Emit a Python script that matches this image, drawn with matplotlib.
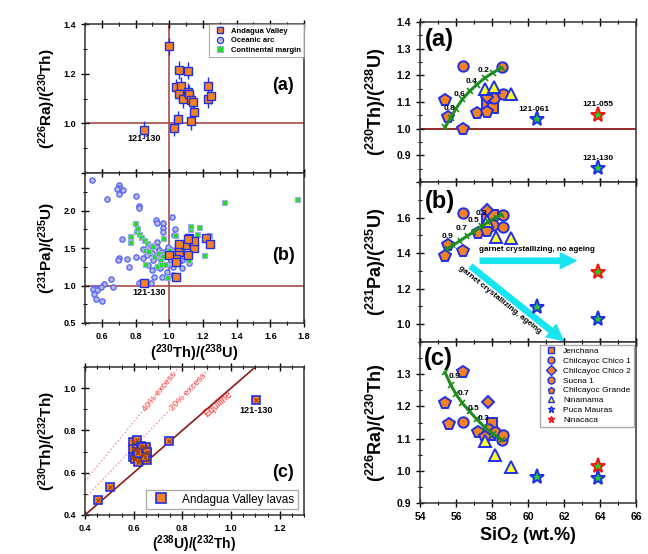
import matplotlib
matplotlib.use("Agg")
import matplotlib.pyplot as plt
from matplotlib.markers import MarkerStyle
from matplotlib.lines import Line2D
import numpy as np

plt.rcParams['font.family'] = 'Liberation Sans'
plt.rcParams['font.weight'] = 'bold'
plt.rcParams['mathtext.fontset'] = 'custom'
plt.rcParams['mathtext.rm'] = 'Liberation Sans:bold'
plt.rcParams['mathtext.bf'] = 'Liberation Sans:bold'
plt.rcParams['mathtext.default'] = 'bf'

ORANGE = '#F5821F'
BLUE = '#1F2FE8'
LINE_RED = '#A84B4B'
EQ_RED = '#8B1A1A'

# ---------------- left column data ----------------
# (a) Andagua Valley: (230Th/238U) vs (226Ra/230Th)
av_thu_a = [1.00, 1.06, 1.11, 1.04, 1.07, 1.06, 1.08, 1.11, 1.12, 1.13,
            1.14, 1.15, 1.13, 1.05, 1.03, 1.23, 1.23, 1.25, 0.85]
av_rath_a = [1.31, 1.215, 1.212, 1.145, 1.15, 1.12, 1.098, 1.127, 1.118, 1.094,
             1.087, 1.045, 1.008, 1.016, 0.983, 1.15, 1.096, 1.112, 0.975]

# (b) (230Th/238U) vs (231Pa/235U)
av_thu_b = [0.85, 1.04, 1.06, 1.06, 1.10, 1.12, 1.14, 1.15, 1.11, 1.04,
            1.00, 1.22, 1.24, 1.15, 1.11, 1.06, 1.04]
av_pau_b = [1.04, 1.11, 1.45, 1.52, 1.54, 1.63, 1.58, 1.50, 1.41, 1.35,
            1.41, 1.63, 1.55, 1.59, 1.62, 1.56, 1.32]

oa_thu = [0.543, 0.704, 0.702, 0.727, 0.692, 0.704, 0.803, 0.629, 0.822, 0.822,
          1.014, 0.919, 0.925, 0.961, 0.965, 1.034, 1.028, 0.961, 0.722, 0.926,
          0.704, 0.698, 0.751, 0.761, 0.803, 0.846, 0.846, 0.876, 0.866, 0.896,
          0.905, 0.925, 0.941, 0.955, 0.935, 0.961, 0.975, 0.985, 0.995, 1.014,
          1.024, 1.044, 1.064, 1.074, 1.088, 1.078, 1.119, 0.925, 0.876, 0.896,
          0.945, 0.985, 1.024, 0.955, 1.020, 0.909, 0.892, 0.820, 0.654, 0.668,
          0.615, 0.593, 0.559, 0.545, 0.569, 0.553, 0.565, 0.603, 1.060, 1.004]
oa_pau = [2.407, 2.34, 2.296, 2.28, 2.29, 2.216, 2.193, 2.149, 2.06, 2.03,
          1.909, 1.873, 1.838, 1.829, 1.762, 1.749, 1.673, 1.718, 1.616, 1.584,
          1.371, 1.34, 1.349, 1.242, 1.384, 1.362, 1.487, 1.518, 1.407, 1.429,
          1.34, 1.518, 1.473, 1.451, 1.384, 1.376, 1.429, 1.473, 1.518, 1.473,
          1.42, 1.376, 1.407, 1.34, 1.393, 1.229, 1.304, 1.251, 1.273, 1.207,
          1.229, 1.184, 1.251, 1.109, 1.14, 1.109, 1.038, 1.038, 1.087, 0.976,
          1.016, 0.976, 0.962, 0.949, 0.94, 0.887, 0.816, 0.798, 1.331, 1.287]

cm_thu = [0.797, 0.801, 0.811, 0.767, 0.767, 0.820, 0.830, 0.850, 0.866, 0.885,
          0.900, 0.854, 0.874, 0.909, 0.933, 0.965, 0.975, 0.985, 1.000, 0.955,
          0.945, 0.925, 0.951, 0.975, 0.985, 0.856, 1.034, 1.113, 1.123, 1.123,
          1.178, 1.166, 1.237, 1.206, 1.325, 1.756, 1.054, 1.074]
cm_pau = [1.838, 1.731, 1.762, 1.66, 1.584, 1.682, 1.651, 1.607, 1.562, 1.54,
          1.527, 1.473, 1.456, 1.393, 1.429, 1.629, 1.429, 1.451, 1.473, 1.393,
          1.34, 1.26, 1.282, 1.287, 1.109, 1.282, 1.673, 1.34, 1.749, 1.793,
          1.784, 1.687, 1.673, 1.407, 2.11, 2.157, 1.349, 1.473]

# (c) (238U/232Th) vs (230Th/232Th)
av_uth_c = [0.455, 0.504, 0.745, 1.103, 0.596, 0.612, 0.598, 0.614, 0.632, 0.650,
            0.653, 0.596, 0.606, 0.623, 0.640, 0.656, 0.614, 0.633, 0.654, 0.619,
            0.647, 0.617]
av_thth_c = [0.47, 0.531, 0.752, 0.944, 0.747, 0.754, 0.712, 0.712, 0.728, 0.722,
             0.694, 0.675, 0.667, 0.662, 0.686, 0.662, 0.697, 0.723, 0.699, 0.652,
             0.676, 0.692]
excess_lines = [1.0, 1.2, 1.4]

# ---------------- right column data (SiO2) ----------------
groups = ['Jenchana', 'Chilcayoc Chico 1', 'Chilcayoc Chico 2', 'Sucna 1',
          'Chilcayoc Grande', 'Ninamama', 'Puca Mauras', 'Ninacaca']
sio2 = {
    'Jenchana': [57.70, 58.07], 'Chilcayoc Chico 1': [56.37, 58.54, 58.13],
    'Chilcayoc Chico 2': [57.70], 'Sucna 1': [58.63],
    'Chilcayoc Grande': [55.39, 55.57, 56.37, 57.15, 57.74],
    'Ninamama': [57.61, 58.13, 59.06], 'Puca Mauras': [60.52, 63.91],
    'Ninacaca': [63.91]}
th_u = {
    'Jenchana': [1.092, 1.077], 'Chilcayoc Chico 1': [1.235, 1.232, 1.114],
    'Chilcayoc Chico 2': [1.118], 'Sucna 1': [1.13],
    'Chilcayoc Grande': [1.108, 1.043, 0.999, 1.058, 1.064],
    'Ninamama': [1.148, 1.156, 1.13], 'Puca Mauras': [1.035, 0.851],
    'Ninacaca': [1.051]}
sio2_b = dict(sio2)
sio2_b.update({'Chilcayoc Chico 1': [56.41, 58.59, 58.07], 'Chilcayoc Grande': [55.39, 55.57, 56.37, 57.20, 57.74],
               'Ninamama': [57.70, 58.20, 59.06]})
pa_u = {
    'Jenchana': [1.59, 1.617], 'Chilcayoc Chico 1': [1.624, 1.614, 1.558],
    'Chilcayoc Chico 2': [1.643], 'Sucna 1': [1.549],
    'Chilcayoc Grande': [1.386, 1.446, 1.412, 1.515, 1.524],
    'Ninamama': [1.582, 1.492, 1.483], 'Puca Mauras': [1.099, 1.03],
    'Ninacaca': [1.296]}
sio2_c = {
    'Jenchana': [58.02, 57.90], 'Chilcayoc Chico 1': [56.37, 57.76, 58.17, 58.54],
    'Chilcayoc Chico 2': [57.76], 'Sucna 1': [58.63],
    'Chilcayoc Grande': [55.39, 55.61, 56.41, 57.20, 57.61],
    'Ninamama': [57.61, 58.17, 59.06], 'Puca Mauras': [60.52, 63.91],
    'Ninacaca': [63.91]}
ra_th = {
    'Jenchana': [1.147, 1.11], 'Chilcayoc Chico 1': [1.151, 1.13, 1.121, 1.096],
    'Chilcayoc Chico 2': [1.213], 'Sucna 1': [1.111],
    'Chilcayoc Grande': [1.21, 1.144, 1.307, 1.12, 1.106],
    'Ninamama': [1.093, 1.049, 1.013], 'Puca Mauras': [0.982, 0.977],
    'Ninacaca': [1.015]}

# model curves (garnet fractionation)
curve_a_x = [55.39, 55.7, 56.0, 56.35, 56.75, 57.15, 57.6, 58.05, 58.54]
curve_a_y = [1.005, 1.04, 1.075, 1.11, 1.14, 1.165, 1.19, 1.21, 1.228]
curve_b_x = [55.48, 55.85, 56.2, 56.6, 57.0, 57.4, 57.8, 58.2, 58.54]
curve_b_y = [1.423, 1.445, 1.468, 1.495, 1.52, 1.55, 1.575, 1.6, 1.615]
curve_c_x = [55.39, 55.7, 56.0, 56.35, 56.75, 57.15, 57.6, 58.05, 58.54]
curve_c_y = [1.306, 1.268, 1.238, 1.21, 1.185, 1.16, 1.135, 1.115, 1.096]
lab_a = [('0.8', 55.63, 1.076), ('0.6', 56.22, 1.13), ('0.4', 56.87, 1.176), ('0.2', 57.52, 1.218)]
lab_b = [('0.9', 55.52, 1.496), ('0.7', 56.28, 1.539), ('0.5', 56.96, 1.582), ('0.3', 57.43, 1.624)]
lab_c = [('0.9', 55.94, 1.294), ('0.7', 56.41, 1.241), ('0.5', 57.0, 1.194), ('0.3', 57.52, 1.161)]

styles = {
    'Jenchana': dict(marker='s', mfc=ORANGE, mec=BLUE, ms=6.5),
    'Chilcayoc Chico 1': dict(marker='o', mfc=ORANGE, mec=BLUE, ms=7.5),
    'Chilcayoc Chico 2': dict(marker='D', mfc=ORANGE, mec=BLUE, ms=6),
    'Sucna 1': dict(marker='o', mfc=ORANGE, mec=BLUE, ms=7.5),
    'Chilcayoc Grande': dict(marker='p', mfc=ORANGE, mec=BLUE, ms=8.5),
    'Ninamama': dict(marker='^', mfc='#FFFF30', mec=BLUE, ms=8.5),
    'Puca Mauras': dict(marker='*', mfc='#22CC22', mec=BLUE, ms=11),
    'Ninacaca': dict(marker='*', mfc='#22CC22', mec='#FF1010', ms=11),
}

fig = plt.figure(figsize=(6.48, 5.54), dpi=100)
W, H = 648.0, 554.0


def add_ax(l, r, t, b):
    return fig.add_axes([l / W, (H - b) / H, (r - l) / W, (b - t) / H])


def style_ax(ax, fs):
    ax.tick_params(which='both', direction='inout', labelsize=fs, top=True)
    ax.tick_params(which='major', length=6, width=1)
    ax.tick_params(which='minor', length=3, width=0.8)
    for s in ax.spines.values():
        s.set_linewidth(1.1)
        s.set_color('#333333')
    for lab in ax.get_xticklabels() + ax.get_yticklabels():
        lab.set_fontweight('bold')


axA = add_ax(85, 304, 24, 173)
axB = add_ax(85, 304, 173, 323)
axC = add_ax(85, 304, 367, 515)

# ---- left (a)
axA.axhline(1.0, color=LINE_RED, lw=1.2, zorder=1)
axA.axvline(1.0, color=LINE_RED, lw=1.2, zorder=1)
axA.errorbar(av_thu_a, av_rath_a, yerr=0.035, xerr=0.012, fmt='s', ms=5.5,
             mfc=ORANGE, mec=BLUE, mew=1.0, ecolor=BLUE, elinewidth=1.0, capsize=0, zorder=3)
axA.text(0.85, 0.94, '121-130', fontsize=6.5, ha='center', va='center')
axA.set_xlim(0.5, 1.8)
axA.set_ylim(0.8, 1.4)
axA.set_yticks([0.8, 1.0, 1.2, 1.4])
axA.set_yticklabels(['', '1.0', '1.2', '1.4'])
axA.set_yticks(np.arange(0.8, 1.41, 0.1), minor=True)
axA.set_xticks(np.arange(0.6, 1.81, 0.2))
axA.set_xticks(np.arange(0.5, 1.81, 0.1), minor=True)
axA.tick_params(labelbottom=False)
axA.text(0.905, 0.59, '(a)', transform=axA.transAxes, fontsize=13, ha='center', va='center')
hA = [Line2D([], [], ls='none', marker='s', mfc=ORANGE, mec=BLUE, ms=4.5, mew=1),
      Line2D([], [], ls='none', marker='o', mfc='#B8B8D8', mec=BLUE, ms=4.5, mew=0.8),
      Line2D([], [], ls='none', marker='s', mfc='#22DD22', mec='#A0A8F0', ms=4.5, mew=0.8)]
legA = axA.legend(hA, ['Andagua Valley', 'Oceanic arc', 'Continental margin'], loc='upper right',
                  prop={'size': 5.5, 'weight': 'bold'}, frameon=True, fancybox=False,
                  borderaxespad=0.05, handletextpad=0.4, labelspacing=0.3, borderpad=0.4)
legA.get_frame().set_edgecolor('#999999')
legA.get_frame().set_linewidth(0.8)
axA.set_ylabel(r'($^{226}$Ra)/($^{230}$Th)', fontsize=11, fontweight='bold', labelpad=4)
style_ax(axA, 6.5)

# ---- left (b)
axB.axhline(1.0, color=LINE_RED, lw=1.2, zorder=1)
axB.axvline(1.0, color=LINE_RED, lw=1.2, zorder=1)
axB.plot(oa_thu, oa_pau, 'o', ms=3.8, mfc='#B8B8D8', mec='#5060FF', mew=0.9, zorder=2)
axB.plot(cm_thu, cm_pau, 's', ms=3.6, mfc='#22DD22', mec='#A0A8F0', mew=0.8, zorder=3)
axB.errorbar(av_thu_b, av_pau_b, yerr=0.03, xerr=0.012, fmt='s', ms=5.5,
             mfc=ORANGE, mec=BLUE, mew=1.0, ecolor=BLUE, elinewidth=1.0, capsize=0, zorder=4)
axB.text(0.88, 0.904, '121-130', fontsize=6.5, ha='center', va='center')
axB.set_xlim(0.5, 1.8)
axB.set_ylim(0.5, 2.5)
axB.set_yticks([0.5, 1.0, 1.5, 2.0])
axB.set_yticks(np.arange(0.5, 2.5, 0.25), minor=True)
axB.set_xticks(np.arange(0.6, 1.81, 0.2))
axB.set_xticks(np.arange(0.5, 1.81, 0.1), minor=True)
axB.text(0.905, 0.453, '(b)', transform=axB.transAxes, fontsize=13, ha='center', va='center')
axB.set_ylabel(r'($^{231}$Pa)/($^{235}$U)', fontsize=11, fontweight='bold', labelpad=4)
axB.set_xlabel(r'($^{230}$Th)/($^{238}$U)', fontsize=10.5, fontweight='bold', labelpad=1)
style_ax(axB, 6.5)

# ---- left (c)
xx = np.array([0.4, 1.3])
axC.plot(xx, excess_lines[0] * xx, color=EQ_RED, lw=1.2, zorder=1)
axC.plot(xx, excess_lines[1] * xx, color='#F09090', lw=1.0, ls=':', zorder=1)
axC.plot(xx, excess_lines[2] * xx, color='#F09090', lw=1.0, ls=':', zorder=1)
axC.text(0.945, 0.925, 'Equiline', color='#FF2020', fontsize=7, rotation=41,
         ha='center', va='center', fontweight='normal')
axC.text(0.825, 0.985, '20% excess', color='#FF4040', fontsize=6.5, rotation=46,
         ha='center', va='center', fontweight='normal')
axC.text(0.705, 0.985, '40% excess', color='#FF4040', fontsize=6.5, rotation=50.6,
         ha='center', va='center', fontweight='normal')
axC.plot(av_uth_c, av_thth_c, 's', ms=6, mfc=ORANGE, mec=BLUE, mew=1.2, zorder=3)
axC.plot(av_uth_c, av_thth_c, 'x', ms=3, mec='#A04000', mew=0.8, zorder=4)
axC.text(1.103, 0.893, '121-130', fontsize=6.5, ha='center', va='center')
axC.set_xlim(0.4, 1.3)
axC.set_ylim(0.4, 1.1)
axC.set_xticks([0.4, 0.6, 0.8, 1.0, 1.2])
axC.set_xticks(np.arange(0.4, 1.31, 0.05), minor=True)
axC.set_yticks([0.4, 0.6, 0.8, 1.0])
axC.set_yticks(np.arange(0.4, 1.11, 0.1), minor=True)
axC.text(0.905, 0.284, '(c)', transform=axC.transAxes, fontsize=13, ha='center', va='center')
hC = [Line2D([], [], ls='none', marker='s', mfc=ORANGE, mec=BLUE, ms=7, mew=1.2)]
legC = axC.legend(hC, ['Andagua Valley lavas'], loc='lower right',
                  prop={'size': 8.5, 'weight': 'normal'},
                  fancybox=False, borderaxespad=0.5, handletextpad=0.8, borderpad=0.3)
legC.get_frame().set_edgecolor('#999999')
axC.set_ylabel(r'($^{230}$Th)/($^{232}$Th)', fontsize=11, fontweight='bold', labelpad=4)
axC.set_xlabel(r'($^{238}$U)/($^{232}$Th)', fontsize=10, fontweight='bold', labelpad=0)
style_ax(axC, 6.5)

# ---------------- right column ----------------
ax1 = add_ax(420, 636, 22, 182)
ax2 = add_ax(420, 636, 182, 342)
ax3 = add_ax(420, 636, 342, 503)


def plot_groups(ax, xs, ys):
    for g in groups:
        st = styles[g]
        ax.plot(xs[g], ys[g], ls='none', marker=st['marker'], ms=st['ms'],
                mfc=st['mfc'], mec=st['mec'], mew=1.4, zorder=3, label=g)


def plot_curve(ax, cx, cy, rot, labs):
    ax.plot(cx, cy, color='#1E8C1E', lw=2.2, zorder=4)
    ax.plot(cx, cy, ls='none', marker=MarkerStyle('|').rotated(deg=rot), ms=6,
            mec='#1E8C1E', mew=1.2, zorder=4)
    for t, x, y in labs:
        ax.text(x, y, t, fontsize=6, ha='center', va='center', zorder=5)


for ax in (ax1, ax2, ax3):
    ax.set_xlim(54, 66)
    ax.set_xticks(np.arange(54, 66.1, 2))
    ax.set_xticks(np.arange(54, 66.1, 1), minor=True)

# (a)
ax1.axhline(1.0, color=EQ_RED, lw=1.3, zorder=1)
plot_groups(ax1, sio2, th_u)
plot_curve(ax1, curve_a_x, curve_a_y, 47, lab_a)
ax1.text(60.33, 1.072, '121-061', fontsize=6, ha='center', va='center')
ax1.text(63.9, 1.089, '121-055', fontsize=6, ha='center', va='center')
ax1.text(63.9, 0.889, '121-130', fontsize=6, ha='center', va='center')
ax1.set_ylim(0.8, 1.4)
ax1.set_yticks(np.arange(0.8, 1.41, 0.1))
ax1.set_yticklabels(['', '0.9', '1.0', '1.1', '1.2', '1.3', '1.4'])
ax1.set_yticks(np.arange(0.8, 1.41, 0.05), minor=True)
ax1.tick_params(labelbottom=False)
ax1.text(0.09, 0.89, '(a)', transform=ax1.transAxes, fontsize=17, ha='center', va='center')
ax1.set_ylabel(r'($^{230}$Th)/($^{238}$U)', fontsize=13, fontweight='bold', labelpad=6)
style_ax(ax1, 7.5)

# (b)
plot_groups(ax2, sio2_b, pa_u)
plot_curve(ax2, curve_b_x, curve_b_y, 33, lab_b)
ax2.annotate('', xy=(62.9, 1.357), xytext=(57.15, 1.357),
             arrowprops=dict(arrowstyle='simple,head_length=0.8,head_width=0.8,tail_width=0.3',
                             color='#18E4F0', mutation_scale=16, lw=0), zorder=2)
ax2.text(60.48, 1.42, 'garnet crystallizing, no ageing', fontsize=5.8, ha='center', va='center')
arr = ax2.annotate('', xy=(62.15, 0.893), xytext=(56.68, 1.337), annotation_clip=False,
                   arrowprops=dict(arrowstyle='simple,head_length=0.8,head_width=0.8,tail_width=0.3',
                                   color='#18E4F0', mutation_scale=16, lw=0, clip_on=False), zorder=2)
arr.arrow_patch.set_clip_on(False)
ax2.text(58.44, 1.136, 'garnet crystallizing, ageing', fontsize=5.8, rotation=-38.8,
         ha='center', va='center')
ax2.set_ylim(0.9, 1.8)
ax2.set_yticks([1.0, 1.2, 1.4, 1.6])
ax2.set_yticks(np.arange(0.9, 1.81, 0.1), minor=True)
ax2.tick_params(labelbottom=False)
ax2.text(0.09, 0.877, '(b)', transform=ax2.transAxes, fontsize=17, ha='center', va='center')
ax2.set_ylabel(r'($^{231}$Pa)/($^{235}$U)', fontsize=13, fontweight='bold', labelpad=6)
style_ax(ax2, 7.5)

# (c)
plot_groups(ax3, sio2_c, ra_th)
plot_curve(ax3, curve_c_x, curve_c_y, -50, lab_c)
ax3.set_ylim(0.9, 1.4)
ax3.set_yticks([0.9, 1.0, 1.1, 1.2, 1.3])
ax3.set_yticks(np.arange(0.9, 1.41, 0.05), minor=True)
ax3.text(0.085, 0.90, '(c)', transform=ax3.transAxes, fontsize=17, ha='center', va='center')
ax3.set_ylabel(r'($^{226}$Ra)/($^{230}$Th)', fontsize=13, fontweight='bold', labelpad=6)
ax3.set_xlabel(r'SiO$_2$ (wt.%)', fontsize=13, fontweight='bold', labelpad=2)
hR = [Line2D([], [], ls='none', marker=styles[g]['marker'], mfc=styles[g]['mfc'],
             mec=styles[g]['mec'], ms=5, mew=1) for g in groups]
legR = ax3.legend(hR, groups, loc='upper right', prop={'size': 6, 'weight': 'normal'},
                  fancybox=False, borderaxespad=0.3, handletextpad=0.5, labelspacing=0.25,
                  borderpad=0.3)
legR.get_frame().set_edgecolor('#999999')
style_ax(ax3, 7.5)

fig.savefig('out.png', dpi=100)
